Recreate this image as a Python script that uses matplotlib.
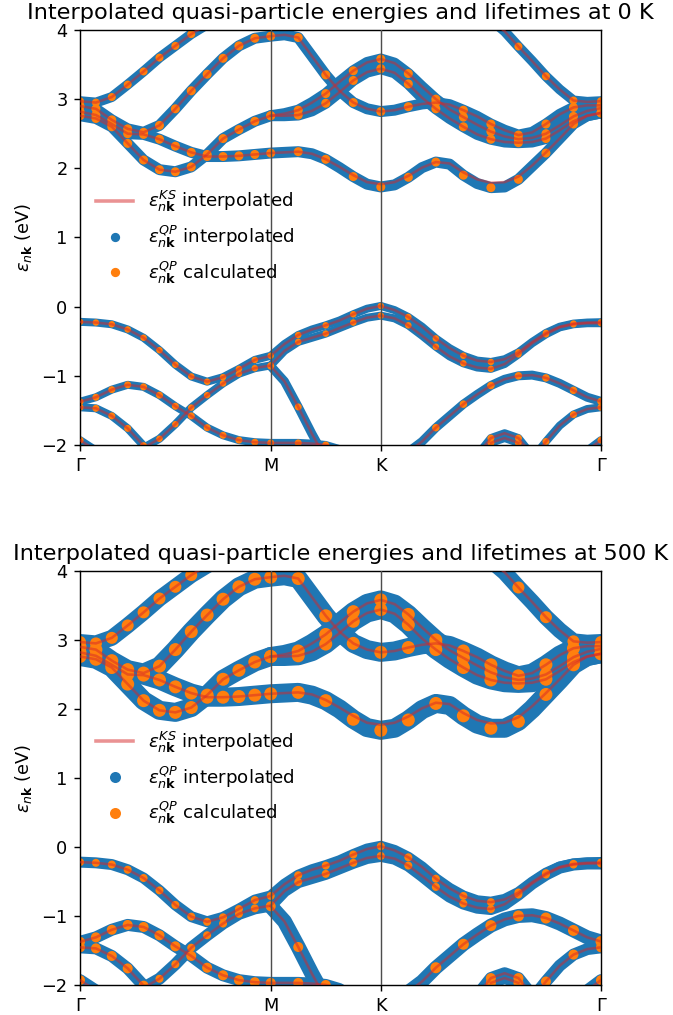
import numpy as np
import matplotlib
matplotlib.use("Agg")
import matplotlib.pyplot as plt
from matplotlib.lines import Line2D

nan = float("nan")

# ---- k-path: Gamma-M (12 steps), M-K (8 steps), K-Gamma (16 steps) ----
seg_len = [1.0, 1.0 / np.sqrt(3), 2.0 / np.sqrt(3)]
seg_steps = [12, 8, 16]
tick_labels = ["Γ", "M", "K", "Γ"]
calc_idx = list(range(0, 13)) + [14, 16, 18, 20] + list(range(22, 37, 2))

# ---- band energies (eV), KS interpolated ----
VA = [-0.22, -0.23, -0.255, -0.33, -0.45, -0.63, -0.84, -1.01, -1.085, -1.02, -0.90, -0.77, -0.71,
      -0.54, -0.41, -0.33, -0.27, -0.20, -0.11, -0.03, 0.01,
      -0.05, -0.15, -0.29, -0.46, -0.60, -0.71, -0.78, -0.80, -0.76, -0.66, -0.51, -0.38, -0.29, -0.245, -0.23, -0.225]
VC = [nan, nan, nan, -2.30, -2.04, -1.91, -1.70, -1.46, -1.28, -1.11, -0.97, -0.89, -0.85,
      -0.64, -0.51, -0.45, -0.39, -0.31, -0.23, -0.16, -0.13,
      -0.17, -0.27, -0.42, -0.58, -0.72, -0.82, -0.88, -0.90, -0.83, -0.69, -0.53, -0.40, -0.30, -0.255, -0.24, -0.24]
VD = [nan] * 12 + [-0.86, -1.08, -1.45, -1.84, -2.2] + [nan] * 20
V3a = [-1.375, -1.31, -1.20, -1.13, -1.16, -1.28, -1.44, -1.58, -1.75, -1.86, -1.93, -1.96, -1.97,
       -1.97, -1.97, -1.98, -2.00, -2.06, -2.2] + [nan] * 18
V3b = [-1.455, -1.47, -1.58, -1.76, -2.01, -2.3] + [nan] * 31
V4 = [-1.93, -2.08] + [nan] * 33 + [-2.08, -1.93]
V5 = [nan] * 21 + [-2.35, -2.10, -1.95, -1.75, -1.58, -1.41, -1.27, -1.14, -1.05, -1.00, -0.99,
                   -1.03, -1.11, -1.21, -1.31, -1.37]
V6 = [nan] * 31 + [-2.2, -1.95, -1.72, -1.56, -1.48, -1.455]
V7 = [nan] * 27 + [-2.15, -1.90, -1.83, -1.90, -2.15] + [nan] * 5
V7b = [nan] * 28 + [-1.97, -1.90, -1.97] + [nan] * 6

Ctop1 = [2.97, 2.95, 3.03, 3.21, 3.40, 3.60, 3.77, 3.94, 4.08, 4.20] + [nan] * 27
C3 = [2.90, 2.86, 2.70, 2.57, 2.52, 2.62, 2.86, 3.12, 3.36, 3.59, 3.77, 3.88, 3.91,
      3.93, 3.89, 3.62, 3.35, 3.12, 2.95, 2.86, 2.82,
      2.84, 2.89, 2.93, 2.95, 2.92, 2.84, 2.75, 2.64, 2.55, 2.48, 2.52, 2.64, 2.78, 2.88, 2.91, 2.91]
Q = [2.82, 2.77, 2.64, 2.50, 2.49, 2.42, 2.32, 2.23, 2.17, 2.17, 2.18, 2.20, 2.22,
     2.23, 2.24, 2.21, 2.13, 2.02, 1.90, 1.80, 1.77,
     1.80, 1.89, 2.01, 2.09, 2.07, 1.94, 1.84, 1.79, 1.80, 1.88, 2.04, 2.23, 2.43, 2.64, 2.76, 2.80]
C1 = [2.76, 2.72, 2.60, 2.36, 2.12, 1.98, 1.95, 2.02, 2.20, 2.43, 2.56, 2.68, 2.76,
      2.79, 2.84, 2.95, 3.08, 3.25, 3.41, 3.53, 3.58,
      3.52, 3.37, 3.18, 3.00, 2.85, 2.74, 2.63, 2.53, 2.46, 2.42, 2.44, 2.50, 2.62, 2.75, 2.83, 2.87]
C1b = [nan] * 12 + [2.76, 2.76, 2.77, 2.83, 2.94, 3.10, 3.27, 3.39, 3.44,
                    3.38, 3.22, 3.02, 2.86, 2.72, 2.60, 2.49, 2.42, 2.38, 2.37, 2.38, 2.43, 2.55, 2.68, 2.76, 2.80]
Ctop2 = [nan] * 27 + [4.30, 4.15, 3.98, 3.76, 3.55, 3.33, 3.14, 2.98, 2.96, 2.97]

# QP energies of the lowest conduction band (differ visibly from KS)
Q_qp0 = [2.82, 2.77, 2.64, 2.50, 2.49, 2.42, 2.32, 2.23, 2.17, 2.17, 2.18, 2.20, 2.22,
         2.23, 2.24, 2.21, 2.13, 2.01, 1.88, 1.77, 1.73,
         1.76, 1.87, 2.01, 2.09, 2.06, 1.90, 1.78, 1.72, 1.73, 1.84, 2.03, 2.22, 2.43, 2.64, 2.76, 2.80]
Q_qp500 = [2.82, 2.77, 2.64, 2.50, 2.49, 2.42, 2.32, 2.23, 2.17, 2.17, 2.18, 2.20, 2.22,
           2.23, 2.24, 2.20, 2.12, 2.00, 1.85, 1.73, 1.69,
           1.72, 1.84, 1.99, 2.08, 2.05, 1.90, 1.78, 1.72, 1.72, 1.82, 2.00, 2.21, 2.42, 2.64, 2.76, 2.80]

bands = {"VA": VA, "VC": VC, "VD": VD, "V3a": V3a, "V3b": V3b, "V4": V4, "V5": V5,
         "V6": V6, "V7": V7, "V7b": V7b, "Ctop1": Ctop1, "C3": C3, "Q": Q, "C1": C1,
         "C1b": C1b, "Ctop2": Ctop2}
qp_override = [{"Q": Q_qp0}, {"Q": Q_qp500}]

# blue width (px) and dot diameter (px) per band: (0 K, 500 K)
blue_w = {"VA": (8, 11), "VC": (8, 12), "VD": (9, 15), "V3a": (8, 12), "V3b": (8, 12), "V4": (8, 12),
          "V5": (9, 14), "V6": (8, 12), "V7": (8, 12), "V7b": (8, 12), "Ctop1": (10, 16),
          "C3": (11, 19), "Q": (11, 19), "C1": (11, 19), "C1b": (11, 19), "Ctop2": (10, 16)}
dot_d = {"VA": (6.5, 8), "VC": (6.5, 8), "VD": (7, 10), "V3a": (7, 10), "V3b": (7, 10), "V4": (7, 10),
         "V5": (7.5, 11), "V6": (7, 10), "V7": (7, 10), "V7b": (7, 10), "Ctop1": (8, 12),
         "C3": (9, 13), "Q": (9, 13), "C1": (9, 13), "C1b": (9, 13), "Ctop2": (8, 12)}
titles = ["Interpolated quasi-particle energies and lifetimes at 0 K",
          "Interpolated quasi-particle energies and lifetimes at 500 K"]

# ---- build k coordinates ----
kk = [0.0]
for L, n in zip(seg_len, seg_steps):
    start = kk[-1]
    kk += list(start + L * np.arange(1, n + 1) / n)
kk = np.array(kk)
ticks_k = np.concatenate([[0.0], np.cumsum(seg_len)])

DPI = 128
PX = 72.0 / DPI
fig = plt.figure(figsize=(673 / DPI, 1015 / DPI), dpi=DPI)
axes = [fig.add_axes([0.1189, 0.5616, 0.7741, 0.4089]),
        fig.add_axes([0.1189, 0.0296, 0.7741, 0.4079])]

for p, ax in enumerate(axes):
    for name, ks in bands.items():
        ks = np.array(ks, dtype=float)
        qp = np.array(qp_override[p].get(name, ks), dtype=float)
        ax.plot(kk, qp, color="tab:blue", lw=blue_w[name][p] * PX,
                solid_capstyle="round", solid_joinstyle="round", zorder=1)
        ci = [i for i in calc_idx if np.isfinite(qp[i])]
        ax.scatter(kk[ci], qp[ci], s=(dot_d[name][p] * PX) ** 2, color="tab:orange",
                   edgecolors="none", zorder=2)
        ax.plot(kk, ks, color="tab:red", alpha=0.5, lw=2.6 * PX, zorder=3)
    for t in ticks_k[1:-1]:
        ax.axvline(t, color="0.3", lw=0.8, zorder=4)
    ax.set_xlim(ticks_k[0], ticks_k[-1])
    ax.set_ylim(-2, 4)
    ax.set_xticks(ticks_k)
    ax.set_xticklabels(tick_labels)
    ax.set_yticks(range(-2, 5))
    ax.set_ylabel(r"$\varepsilon_{n\mathbf{k}}$ (eV)")
    ax.set_title(titles[p], fontsize=12.6)
    ms = 4.2 if p == 0 else 5.2
    handles = [Line2D([], [], color="tab:red", alpha=0.5, lw=2.0),
               Line2D([], [], color="tab:blue", marker="o", ls="none", ms=ms),
               Line2D([], [], color="tab:orange", marker="o", ls="none", ms=ms)]
    labels = [r"$\varepsilon^{KS}_{n\mathbf{k}}$ interpolated",
              r"$\varepsilon^{QP}_{n\mathbf{k}}$ interpolated",
              r"$\varepsilon^{QP}_{n\mathbf{k}}$ calculated"]
    ax.legend(handles, labels, loc="center left", frameon=False, fontsize=10.3)

fig.savefig("out.png", dpi=DPI)
